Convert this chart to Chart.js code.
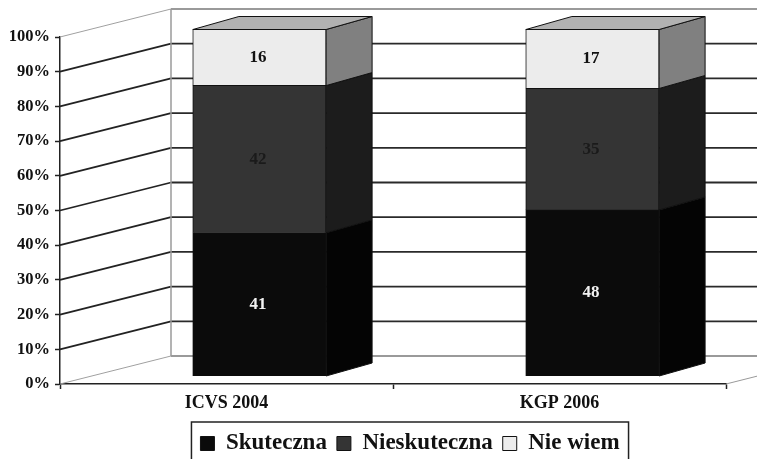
<!DOCTYPE html>
<html>
<head>
<meta charset="utf-8">
<title>Skuteczna / Nieskuteczna</title>
<script src="https://cdn.jsdelivr.net/npm/chart.js@4/dist/chart.umd.min.js"></script>
<style>
    html, body { margin: 0; padding: 0; background: #fff; overflow: hidden; }
    canvas { display: block; }
</style>
</head>
<body>
<canvas id="chart" width="757" height="459"></canvas>
<script>
const categories = ['ICVS 2004', 'KGP 2006'];
const skuteczna = [41, 48];
const nieskuteczna = [42, 35];
const nieWiem = [16, 17];
const yTicks = [0, 10, 20, 30, 40, 50, 60, 70, 80, 90, 100];

const seriesNames = ['Skuteczna', 'Nieskuteczna', 'Nie wiem'];
const seriesValues = [skuteczna, nieskuteczna, nieWiem];
const frontColors = ['#0b0b0b', '#343434', '#ececec'];
const sideColors = ['#040404', '#1c1c1c', '#808080'];
const topColor = '#b2b2b2';
const labelColors = ['#f2f2f2', '#1a1a1a', '#111111'];

// the fake 3d: wall depth from the front axis, bar depth and where the bars stand on the floor
const wallDepth = { x: 111, y: -28 };
const barDepth = { x: 46, y: -13 };
const barShift = { x: 33, y: -7.5 };
const serif = '"Liberation Serif", serif';

// bars are 100% stacked, the row totals are not always exactly 100
const totals = categories.map((c, i) => seriesValues.reduce((sum, s) => sum + s[i], 0));

function line(ctx, x1, y1, x2, y2, color, width) {
    ctx.beginPath();
    ctx.moveTo(x1, y1);
    ctx.lineTo(x2, y2);
    ctx.strokeStyle = color;
    ctx.lineWidth = width;
    ctx.stroke();
}

function face(ctx, points, color) {
    ctx.beginPath();
    points.forEach((p, i) => i ? ctx.lineTo(p[0], p[1]) : ctx.moveTo(p[0], p[1]));
    ctx.closePath();
    ctx.fillStyle = color;
    ctx.fill();
    ctx.strokeStyle = '#111';
    ctx.lineWidth = 1;
    ctx.stroke();
}

const walls3d = {
    id: 'walls3d',
    afterLayout(chart) {
        // legend box sits right of centre in the original
        const legend = chart.legend;
        legend.left += 47;
        legend.right += 47;
        legend.top += 6;
        legend.bottom += 6;
        legend.adjustHitBoxes();
    },
    beforeDatasetsDraw(chart) {
        const ctx = chart.ctx;
        const y = chart.scales.y;
        const area = chart.chartArea;
        const wallX = area.left + wallDepth.x;

        ctx.save();
        yTicks.forEach(v => {
            const py = y.getPixelForValue(v);
            const edge = v === 0 || v === 100;
            line(ctx, area.left, py, wallX, py + wallDepth.y, edge ? '#a0a0a0' : '#222', edge ? 1 : 1.8);
            line(ctx, wallX, py + wallDepth.y, chart.width, py + wallDepth.y, edge ? '#9a9a9a' : '#2a2a2a', 1.8);
        });
        line(ctx, wallX, y.getPixelForValue(0) + wallDepth.y, wallX, y.getPixelForValue(100) + wallDepth.y, '#9a9a9a', 1.5);
        line(ctx, area.right, area.bottom, area.right + wallDepth.x, area.bottom + wallDepth.y, '#999', 1);
        ctx.restore();

        ctx.save();
        ctx.translate(barShift.x, barShift.y);
    },
    afterDatasetsDraw(chart) {
        const ctx = chart.ctx;
        const last = seriesValues.length - 1;

        seriesValues.forEach((s, i) => {
            chart.getDatasetMeta(i).data.forEach(bar => {
                const right = bar.x + bar.width / 2;
                const left = bar.x - bar.width / 2;
                face(ctx, [
                    [right, bar.y],
                    [right + barDepth.x, bar.y + barDepth.y],
                    [right + barDepth.x, bar.base + barDepth.y],
                    [right, bar.base]
                ], sideColors[i]);
                if (i === last) {
                    face(ctx, [
                        [left, bar.y],
                        [left + barDepth.x, bar.y + barDepth.y],
                        [right + barDepth.x, bar.y + barDepth.y],
                        [right, bar.y]
                    ], topColor);
                }
            });
        });

        ctx.font = 'bold 17px ' + serif;
        ctx.textAlign = 'center';
        ctx.textBaseline = 'middle';
        seriesValues.forEach((s, i) => {
            chart.getDatasetMeta(i).data.forEach((bar, j) => {
                ctx.fillStyle = labelColors[i];
                ctx.fillText(String(s[j]), bar.x - 1.5, (bar.y + bar.base) / 2);
            });
        });
        ctx.restore();
    },
    afterDraw(chart) {
        const ctx = chart.ctx;
        const boxes = chart.legend.legendHitBoxes;
        const x1 = boxes[0].left - 9;
        const x2 = boxes[boxes.length - 1].left + boxes[boxes.length - 1].width + 9;
        ctx.save();
        ctx.strokeStyle = '#222';
        ctx.lineWidth = 1.5;
        ctx.strokeRect(x1, chart.legend.top, x2 - x1, chart.legend.height + 4);
        ctx.restore();
    }
};

new Chart(document.getElementById('chart'), {
    type: 'bar',
    data: {
        labels: categories,
        datasets: seriesNames.map((name, i) => ({
            label: name,
            data: seriesValues[i].map((v, j) => v / totals[j] * 100),
            backgroundColor: frontColors[i],
            borderColor: '#111',
            borderWidth: 1,
            inflateAmount: 0.5,
            barPercentage: 0.4,
            categoryPercentage: 1,
            clip: false
        }))
    },
    options: {
        responsive: false,
        animation: false,
        layout: { padding: { top: 37, right: 31, left: 0, bottom: 0 } },
        scales: {
            x: {
                stacked: true,
                afterFit: scale => { scale.height = 32; },
                border: { color: '#222', width: 1.5 },
                grid: { drawOnChartArea: false, drawTicks: true, tickLength: 5, tickColor: '#222', tickWidth: 1.5 },
                ticks: { color: '#111', padding: 4, font: { family: serif, size: 18, weight: 'bold' } }
            },
            y: {
                stacked: true,
                min: 0,
                max: 100,
                afterFit: scale => { scale.width = 60; },
                afterBuildTicks: scale => { scale.ticks = yTicks.map(v => ({ value: v })); },
                border: { color: '#222', width: 1.5 },
                grid: { drawOnChartArea: false, drawTicks: true, tickLength: 5, tickColor: '#222', tickWidth: 1.5 },
                ticks: {
                    color: '#111',
                    padding: 5,
                    font: { family: serif, size: 16.5, weight: 'bold' },
                    callback: v => v + '%'
                }
            }
        },
        plugins: {
            tooltip: { enabled: false },
            legend: {
                position: 'bottom',
                labels: {
                    color: '#111',
                    boxWidth: 14,
                    boxHeight: 14,
                    padding: 10,
                    font: { family: serif, size: 23, weight: 'bold' }
                }
            }
        }
    },
    plugins: [walls3d]
});
</script>
</body>
</html>
